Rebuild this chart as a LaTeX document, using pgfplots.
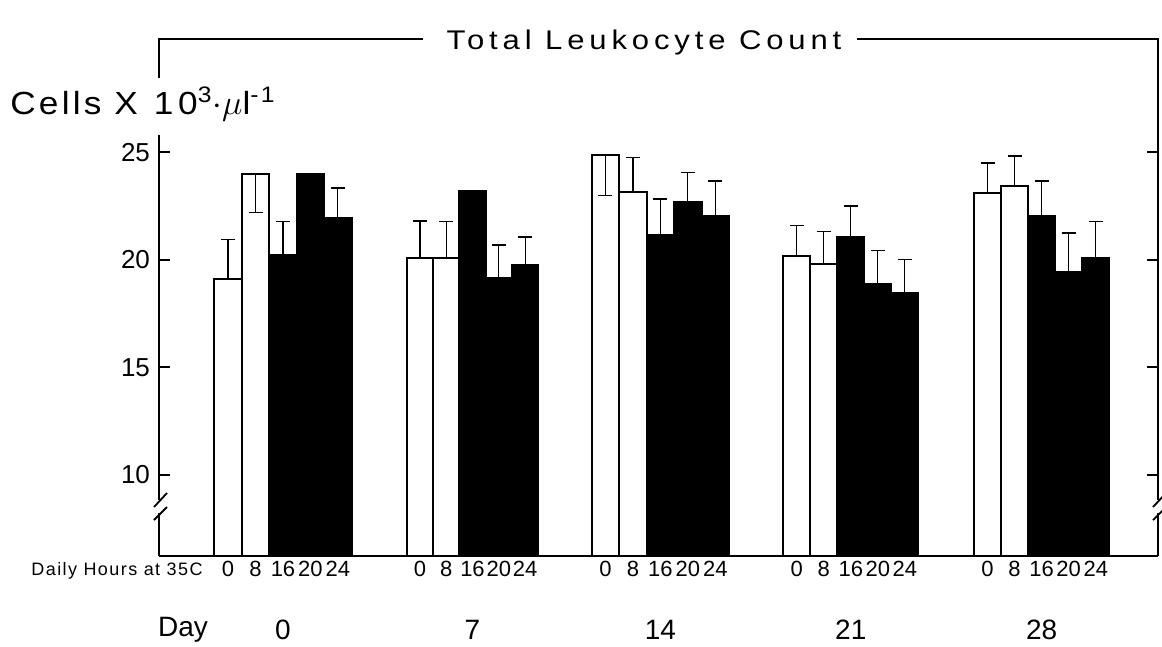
\documentclass[border=0pt]{standalone}
\usepackage{fontspec}
\setmainfont{Liberation Sans}
\newfontfamily\titlefont[FakeStretch=1.15,LetterSpace=18]{Liberation Sans}
\newfontfamily\labfont[FakeStretch=1.1,LetterSpace=10]{Liberation Sans}
\newfontfamily\smallfont[LetterSpace=8]{Liberation Sans}
\usepackage{pgfplots}
\pgfplotsset{compat=1.18}
\begin{document}
\begin{tikzpicture}
\begin{axis}[
  scale only axis,
  width=499.5pt, height=258.5pt,
  xmin=159, xmax=1158,
  ymin=6.219, ymax=30.265,
  clip mode=individual,
  separate axis lines,
  axis line style={draw=none},
  tick align=inside,
  major tick length=5.5pt,
  ytick={10,15,20,25},
  yticklabel pos=left,
  ytick style={line width=0.8pt, black},
  xtick style={draw=none},
  /pgf/number format/assume math mode=true,
  yticklabel style={font=\fontsize{13}{13}\selectfont, xshift=-1pt},
  xtick={228.0,255.5,283.0,310.4,337.9, 419.9,446.2,472.5,498.8,525.1, 605.4,632.9,660.4,687.8,715.3, 796.8,823.8,850.8,877.8,904.8, 987.5,1014.6,1041.7,1068.7,1095.8},
  xticklabels={0,8,16,20,24,0,8,16,20,24,0,8,16,20,24,0,8,16,20,24,0,8,16,20,24},
  xticklabel style={font=\fontsize{11}{11}\selectfont, yshift=1pt},
  error bars/y dir=both,
  error bars/y explicit,
  error bars/error bar style={line width=0.6pt, black},
  error bars/error mark options={rotate=90, mark size=3.5pt, line width=0.7pt, black},
]
% Day 0
\addplot[ybar, bar shift=0pt, bar width=27.48, draw=black, fill=white, line width=1pt]
  coordinates {(228.0,19.09) += (0,1.86) -= (0,0) (255.5,24.00) += (0,0) -= (0,1.80)};
\addplot[ybar, bar shift=0pt, bar width=27.48, draw=black, fill=black, line width=1pt]
  coordinates {(283.0,20.20) += (0,1.58) -= (0,0) (310.4,23.97) += (0,0) -= (0,0) (337.9,21.96) += (0,1.38) -= (0,0)};
% Day 7
\addplot[ybar, bar shift=0pt, bar width=26.32, draw=black, fill=white, line width=1pt]
  coordinates {(419.9,20.09) += (0,1.71) -= (0,0) (446.2,20.08) += (0,1.70) -= (0,0)};
\addplot[ybar, bar shift=0pt, bar width=26.32, draw=black, fill=black, line width=1pt]
  coordinates {(472.5,23.19) += (0,0) -= (0,0) (498.8,19.14) += (0,1.55) -= (0,0) (525.1,19.74) += (0,1.32) -= (0,0)};
% Day 14
\addplot[ybar, bar shift=0pt, bar width=27.46, draw=black, fill=white, line width=1pt]
  coordinates {(605.4,24.88) += (0,0) -= (0,1.89) (632.9,23.13) += (0,1.63) -= (0,0)};
\addplot[ybar, bar shift=0pt, bar width=27.46, draw=black, fill=black, line width=1pt]
  coordinates {(660.4,21.16) += (0,1.66) -= (0,0) (687.8,22.69) += (0,1.36) -= (0,0) (715.3,22.05) += (0,1.61) -= (0,0)};
% Day 21
\addplot[ybar, bar shift=0pt, bar width=27.0, draw=black, fill=white, line width=1pt]
  coordinates {(796.8,20.15) += (0,1.44) -= (0,0) (823.8,19.81) += (0,1.49) -= (0,0)};
\addplot[ybar, bar shift=0pt, bar width=27.0, draw=black, fill=black, line width=1pt]
  coordinates {(850.8,21.07) += (0,1.42) -= (0,0) (877.8,18.85) += (0,1.59) -= (0,0) (904.8,18.43) += (0,1.57) -= (0,0)};
% Day 28
\addplot[ybar, bar shift=0pt, bar width=27.06, draw=black, fill=white, line width=1pt]
  coordinates {(987.5,23.12) += (0,1.38) -= (0,0) (1014.6,23.41) += (0,1.41) -= (0,0)};
\addplot[ybar, bar shift=0pt, bar width=27.06, draw=black, fill=black, line width=1pt]
  coordinates {(1041.7,22.03) += (0,1.63) -= (0,0) (1068.7,19.44) += (0,1.80) -= (0,0) (1095.8,20.10) += (0,1.69) -= (0,0)};

% frame: baseline, left axis with break, right axis with break, top bracket
\draw[line width=1pt] (axis cs:159,6.219) -- (axis cs:1158,6.219);
\draw[line width=1pt] (axis cs:159,6.219) -- (axis cs:159,8.219);
\draw[line width=1pt] (axis cs:159,8.823) -- (axis cs:159,25.8);
\draw[line width=0.9pt] (axis cs:159,28.451) -- (axis cs:159,30.265) -- (axis cs:423,30.265);
\draw[line width=0.9pt] (axis cs:857,30.265) -- (axis cs:1158,30.265) -- (axis cs:1158,8.823);
\draw[line width=1pt] (axis cs:1158,8.219) -- (axis cs:1158,6.219);
\draw[line width=0.9pt] (axis cs:154,8.498) -- (axis cs:167,9.149);
\draw[line width=0.9pt] (axis cs:154,7.893) -- (axis cs:167,8.498);
\draw[line width=0.9pt] (axis cs:1153,8.498) -- (axis cs:1166,9.149);
\draw[line width=0.9pt] (axis cs:1153,7.893) -- (axis cs:1166,8.498);

% texts
\node[font=\titlefont\fontsize{13.5}{14}\selectfont, inner sep=0pt] at (axis cs:644,30.08) {Total Leukocyte Count};
\node[font=\labfont\fontsize{16}{16}\selectfont, anchor=west, inner sep=0pt] at (axis cs:10,27.24)
  {Cells X\hspace{0.5em}1\hspace{0.15em}0\textsuperscript{3}$\cdot$$\mu$l\textsuperscript{-1}};
\node[font=\smallfont\fontsize{9}{9}\selectfont, anchor=east, inner sep=0pt] at (axis cs:203,5.52) {Daily Hours at 35C};
\node[font=\fontsize{14}{14}\selectfont, inner sep=0pt] at (axis cs:183,2.78) {Day};
\node[font=\fontsize{14}{14}\selectfont, inner sep=0pt] at (axis cs:283.0,2.78) {0};
\node[font=\fontsize{14}{14}\selectfont, inner sep=0pt] at (axis cs:472.5,2.78) {7};
\node[font=\fontsize{14}{14}\selectfont, inner sep=0pt] at (axis cs:660.4,2.78) {14};
\node[font=\fontsize{14}{14}\selectfont, inner sep=0pt] at (axis cs:850.8,2.78) {21};
\node[font=\fontsize{14}{14}\selectfont, inner sep=0pt] at (axis cs:1041.7,2.78) {28};

\coordinate (BL) at (axis cs:0,2.033);
\coordinate (TR) at (axis cs:1162,32.079);
\end{axis}
\pgfresetboundingbox
\path (BL) rectangle (TR);
\end{tikzpicture}
\end{document}
